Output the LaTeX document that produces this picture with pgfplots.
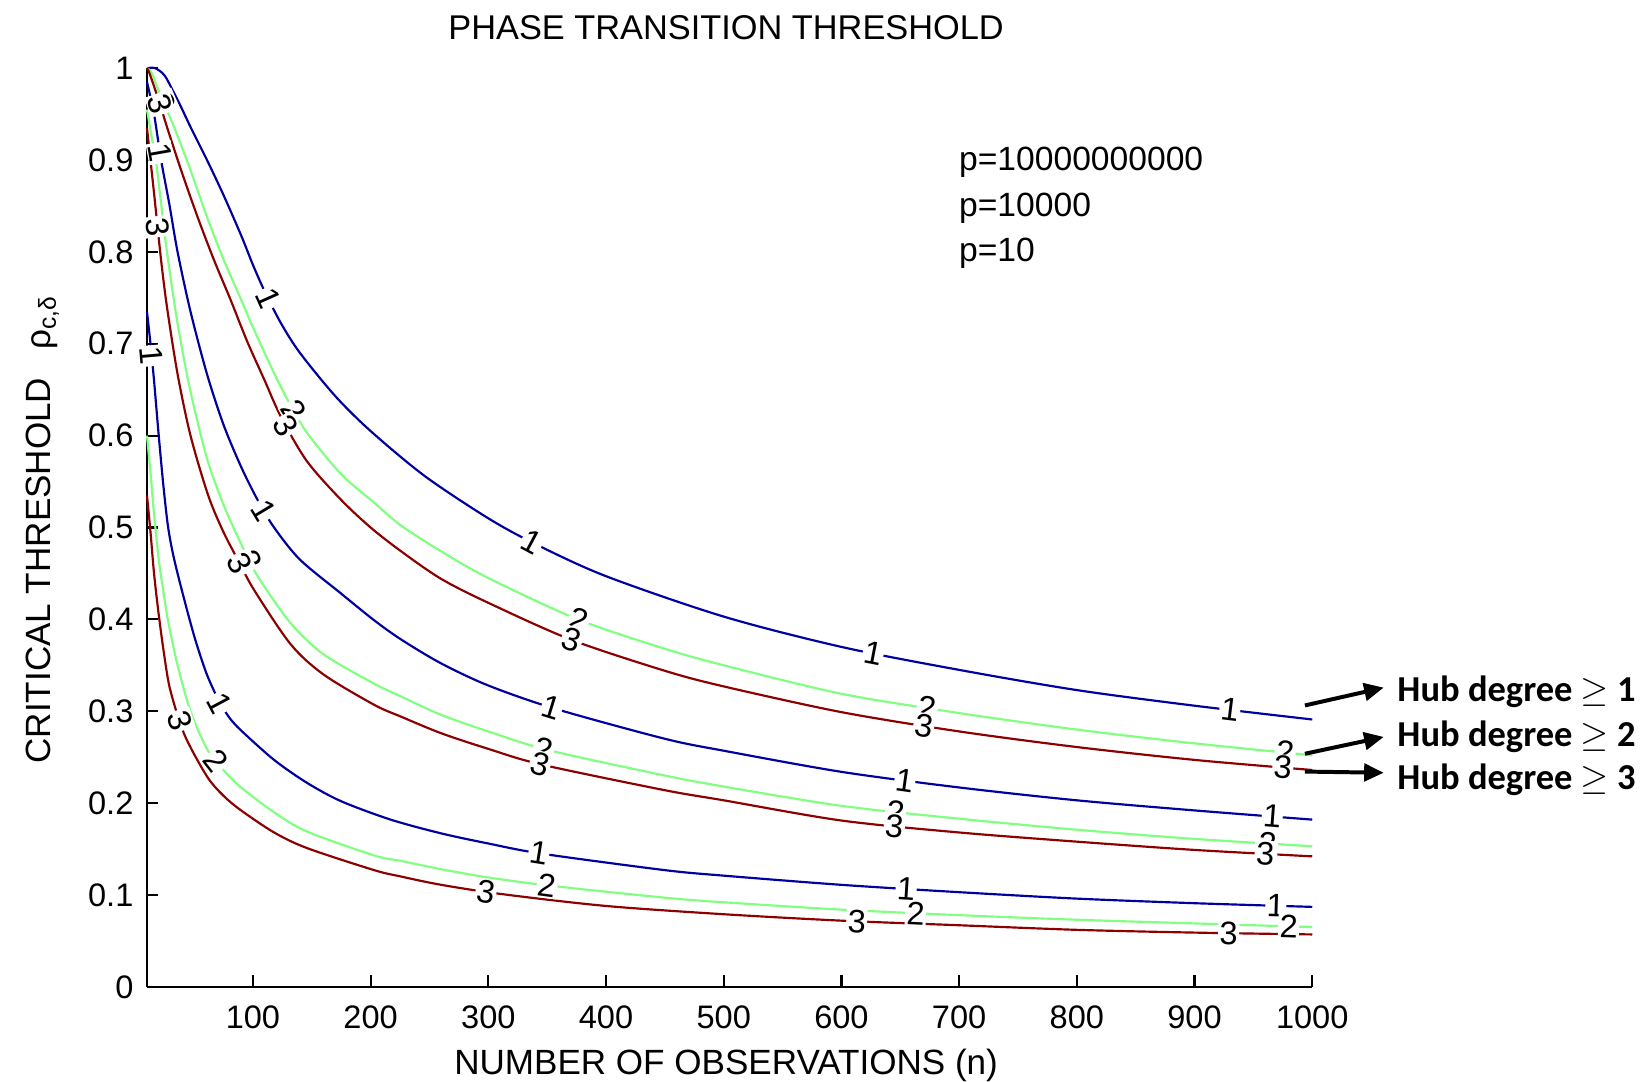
\documentclass[border=0pt]{standalone}
\usepackage{fontspec}
\setmainfont{Liberation Sans}
\newfontfamily\carlito{Carlito}
\usepackage{pgfplots}
\pgfplotsset{compat=1.18}
\usetikzlibrary{arrows.meta}
\definecolor{cblue}{RGB}{0,0,160}
\definecolor{cgreen}{RGB}{128,255,128}
\definecolor{cred}{RGB}{140,0,0}
\newcommand\mf{\fontsize{9}{10.8}\selectfont}
\newcommand\lf{\fontsize{9.7}{11.5}\selectfont}
\begin{document}
\begin{tikzpicture}[lbl/.style={font=\mf, fill=white, inner sep=0.4pt}]
\path[use as bounding box] (-1.4286,-0.9184) rectangle (14.571,9.592);
\begin{axis}[
  at={(0,0)}, anchor=south west,
  scale only axis, width=11.327cm, height=8.929cm,
  xmin=10, xmax=1000, ymin=0, ymax=1,
  axis x line*=bottom, axis y line*=left,
  axis line style={line width=0.6pt, -},
  x axis line style={-}, y axis line style={-},
  xtick={100,200,300,400,500,600,700,800,900,1000},
  ytick={0,0.1,0.2,0.3,0.4,0.5,0.6,0.7,0.8,0.9,1},
  tick align=inside, major tick length=0.11cm,
  tick style={line width=0.6pt, black},
  tick label style={font=\mf},
  /pgf/number format/assume math mode=true,
  /pgf/number format/1000 sep={},
  xticklabel style={anchor=base, yshift=-0.408cm},
  yticklabel style={anchor=east, inner sep=0pt, xshift=-0.125cm},
  title={PHASE TRANSITION THRESHOLD},
  title style={font=\fontsize{9.5}{11}\selectfont, at={(axis description cs:0.497,1)}, anchor=base, yshift=0.07cm, inner sep=0pt},
  xlabel={NUMBER OF OBSERVATIONS (n)},
  xlabel style={font=\lf, at={(axis description cs:0.497,0)}, anchor=base, yshift=-0.857cm, inner sep=0pt},
  ylabel={CRITICAL THRESHOLD\hspace{0.8em}ρ\textsubscript{c,δ}},
  ylabel style={font=\lf, at={(axis description cs:-0.0829,0.498)}, anchor=base, inner sep=0pt},
  clip=false,
  every axis plot/.append style={line width=0.6pt, smooth, tension=0.5},
]
% p = 10^10
\addplot[cblue] coordinates {(10,1.0) (17,1.0) (25,0.992) (33,0.973) (40,0.955) (47,0.936) (61,0.900) (75,0.862) (90,0.818) (100,0.786) (110,0.757) (124,0.722) (140,0.690) (170,0.643) (200,0.605) (246,0.556) (300,0.510) (340,0.482) (400,0.447) (500,0.403) (600,0.370) (700,0.345) (800,0.323) (900,0.306) (1000,0.291)};
\addplot[cgreen] coordinates {(10,1.0) (14,0.995) (20,0.975) (33,0.936) (47,0.889) (61,0.838) (75,0.792) (90,0.748) (100,0.718) (118,0.668) (132,0.633) (146,0.603) (175,0.558) (203,0.527) (226,0.502) (260,0.474) (300,0.445) (376,0.400) (450,0.368) (500,0.350) (600,0.319) (700,0.298) (800,0.280) (900,0.265) (1000,0.252)};
\addplot[cred] coordinates {(10,1.0) (12,0.995) (20,0.965) (27,0.936) (39,0.889) (53,0.838) (67,0.791) (81,0.748) (95,0.703) (110,0.660) (124,0.620) (146,0.572) (175,0.530) (200,0.500) (226,0.474) (260,0.444) (300,0.418) (370,0.378) (450,0.344) (500,0.327) (600,0.299) (700,0.278) (800,0.261) (900,0.247) (1000,0.236)};
% p = 10^4
\addplot[cblue] coordinates {(10,0.985) (16,0.950) (22,0.900) (29,0.852) (36,0.800) (47,0.735) (61,0.667) (75,0.612) (90,0.566) (104,0.530) (118,0.500) (140,0.465) (175,0.428) (203,0.399) (226,0.378) (260,0.352) (300,0.328) (356,0.303) (450,0.270) (500,0.257) (600,0.234) (700,0.217) (800,0.203) (900,0.192) (1000,0.182)};
\addplot[cgreen] coordinates {(10,0.955) (14,0.925) (17.5,0.900) (22,0.853) (27,0.800) (36,0.722) (47,0.648) (61,0.575) (75,0.525) (90,0.482) (104,0.447) (132,0.396) (160,0.362) (203,0.330) (226,0.316) (260,0.296) (300,0.278) (350,0.258) (450,0.230) (500,0.218) (600,0.197) (700,0.183) (800,0.171) (900,0.161) (1000,0.153)};
\addplot[cred] coordinates {(10,0.935) (16,0.864) (22,0.791) (27,0.740) (36,0.667) (47,0.600) (62,0.535) (75,0.495) (88,0.463) (101,0.432) (132,0.373) (160,0.340) (203,0.307) (226,0.294) (260,0.276) (300,0.259) (345,0.242) (450,0.214) (500,0.203) (600,0.181) (700,0.168) (800,0.158) (900,0.149) (1000,0.142)};
% p = 10
\addplot[cblue] coordinates {(10,0.735) (13,0.700) (16,0.660) (20,0.600) (24,0.545) (28,0.500) (33,0.466) (42,0.420) (51,0.378) (60,0.343) (67,0.322) (72,0.309) (80,0.293) (90,0.279) (118,0.247) (146,0.222) (175,0.202) (217,0.182) (260,0.167) (300,0.156) (345,0.145) (450,0.127) (500,0.121) (600,0.111) (700,0.103) (800,0.096) (900,0.091) (1000,0.087)};
\addplot[cgreen] coordinates {(10,0.600) (13,0.560) (16,0.515) (20,0.465) (24,0.430) (28,0.398) (36,0.350) (47,0.300) (61,0.259) (75,0.236) (90,0.217) (118,0.190) (146,0.169) (203,0.143) (226,0.137) (260,0.128) (300,0.119) (353,0.110) (450,0.097) (500,0.092) (600,0.084) (700,0.078) (800,0.073) (900,0.069) (1000,0.065)};
\addplot[cred] coordinates {(10,0.535) (13,0.495) (16,0.450) (20,0.405) (25,0.358) (30,0.322) (42,0.274) (61,0.229) (75,0.208) (90,0.192) (118,0.168) (146,0.151) (203,0.127) (226,0.120) (260,0.111) (311,0.101) (400,0.088) (500,0.079) (600,0.072) (700,0.067) (800,0.062) (900,0.059) (1000,0.057)};
% contour labels, top group
\node[lbl, rotate=-66] at (axis cs:113,0.7495) {1};
\node[lbl, rotate=-59] at (axis cs:135,0.627) {2};
\node[lbl, rotate=-60] at (axis cs:128,0.611) {3};
\node[lbl, rotate=-28] at (axis cs:337,0.484) {1};
\node[lbl, rotate=-19] at (axis cs:377,0.400) {2};
\node[lbl, rotate=-18] at (axis cs:371,0.378) {3};
\node[lbl, rotate=-11] at (axis cs:627,0.363) {1};
\node[lbl, rotate=-9] at (axis cs:673,0.304) {2};
\node[lbl, rotate=-9] at (axis cs:670,0.284) {3};
\node[lbl, rotate=-7] at (axis cs:930,0.3015) {1};
\node[lbl, rotate=-6] at (axis cs:977,0.255) {2};
\node[lbl, rotate=-5] at (axis cs:975,0.2388) {3};
\node[lbl, rotate=-67] at (axis cs:24,0.963) {2};
\node[lbl, rotate=-73] at (axis cs:21,0.961) {3};
% middle group
\node[lbl, rotate=-59] at (axis cs:109,0.519) {1};
\node[lbl, rotate=-63] at (axis cs:97,0.4645) {2};
\node[lbl, rotate=-62] at (axis cs:89,0.4606) {3};
\node[lbl, rotate=-17] at (axis cs:354,0.304) {1};
\node[lbl, rotate=-17] at (axis cs:347,0.259) {2};
\node[lbl, rotate=-16] at (axis cs:344,0.2424) {3};
\node[lbl, rotate=-8] at (axis cs:654,0.2248) {1};
\node[lbl, rotate=-6] at (axis cs:646,0.1906) {2};
\node[lbl, rotate=-6] at (axis cs:645,0.1752) {3};
\node[lbl, rotate=-4.5] at (axis cs:966,0.1854) {1};
\node[lbl, rotate=-3.6] at (axis cs:962,0.156) {2};
\node[lbl, rotate=-3.1] at (axis cs:960,0.1448) {3};
\node[lbl, rotate=-80] at (axis cs:21,0.908) {1};
\node[lbl, rotate=-83] at (axis cs:19,0.8275) {3};
% bottom group
\node[lbl, rotate=-62] at (axis cs:72,0.309) {1};
\node[lbl, rotate=-72] at (axis cs:38,0.290) {3};
\node[lbl, rotate=-52] at (axis cs:69,0.246) {2};
\node[lbl, rotate=-9] at (axis cs:343,0.1455) {1};
\node[lbl, rotate=-9] at (axis cs:298,0.1034) {3};
\node[lbl, rotate=-7.6] at (axis cs:350,0.1105) {2};
\node[lbl, rotate=-3.6] at (axis cs:655,0.1066) {1};
\node[lbl, rotate=-2.2] at (axis cs:613,0.0714) {3};
\node[lbl, rotate=-2.7] at (axis cs:663,0.0802) {2};
\node[lbl, rotate=-1.8] at (axis cs:969,0.0882) {1};
\node[lbl, rotate=-1.8] at (axis cs:980,0.0658) {2};
\node[lbl, rotate=-0.9] at (axis cs:929,0.0584) {3};
\node[lbl, rotate=-85] at (axis cs:14,0.687) {1};
% p labels
\node[anchor=base west, font=\fontsize{9.3}{11}\selectfont, inner sep=0pt] at (axis cs:699.4,0.889) {p=10000000000};
\node[anchor=base west, font=\fontsize{9.3}{11}\selectfont, inner sep=0pt] at (axis cs:699.4,0.839) {p=10000};
\node[anchor=base west, font=\fontsize{9.3}{11}\selectfont, inner sep=0pt] at (axis cs:699.4,0.790) {p=10};
% annotations
\draw[line width=1.1pt, -{Triangle[length=0.19cm, width=0.17cm]}] (axis cs:993.8,0.3063) -- (axis cs:1060.7,0.3257);
\draw[line width=1.1pt, -{Triangle[length=0.19cm, width=0.17cm]}] (axis cs:993.8,0.2537) -- (axis cs:1060.7,0.2720);
\draw[line width=1.1pt, -{Triangle[length=0.19cm, width=0.17cm]}] (axis cs:993.8,0.2343) -- (axis cs:1060.7,0.2330);
\node[anchor=base west, font=\carlito\bfseries\fontsize{10.1}{12}\selectfont, inner sep=0pt] at (axis cs:1071.8,0.3103) {Hub degree $\geq$ 1};
\node[anchor=base west, font=\carlito\bfseries\fontsize{10.1}{12}\selectfont, inner sep=0pt] at (axis cs:1071.8,0.2617) {Hub degree $\geq$ 2};
\node[anchor=base west, font=\carlito\bfseries\fontsize{10.1}{12}\selectfont, inner sep=0pt] at (axis cs:1071.8,0.2149) {Hub degree $\geq$ 3};
\end{axis}
\end{tikzpicture}
\end{document}
